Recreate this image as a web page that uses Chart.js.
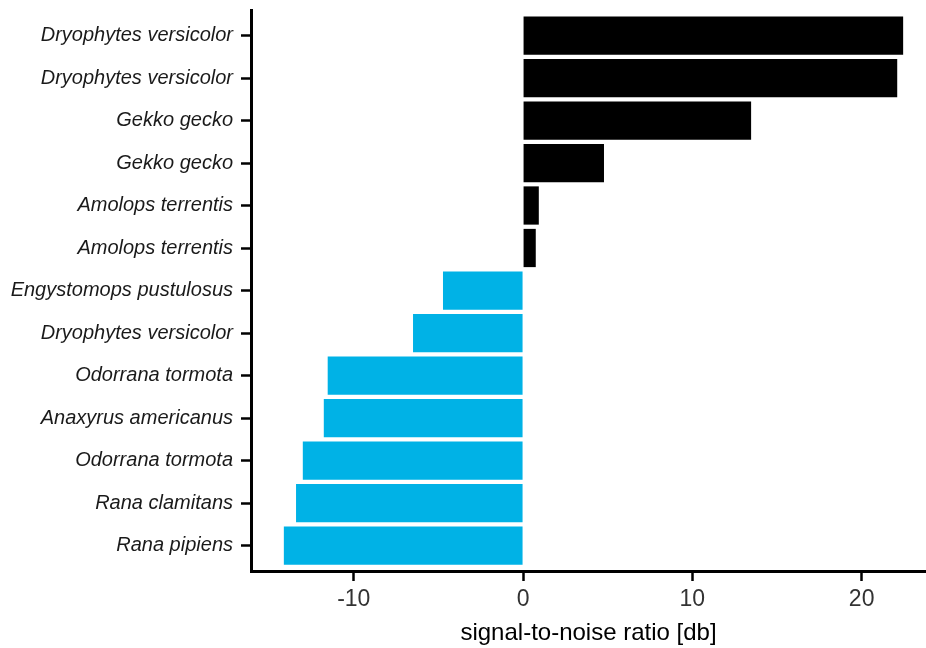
<!DOCTYPE html>
<html lang="en">
<head>
<meta charset="utf-8">
<title>Signal-to-noise ratio by species</title>
<script src="https://cdn.jsdelivr.net/npm/chart.js@4.4.0/dist/chart.umd.min.js"></script>
<style>
  body { margin: 0; background: #fff; }
</style>
</head>
<body>
<canvas id="chart" width="926" height="648"></canvas>
<script>
// species from top to bottom, with their signal-to-noise ratio [db]
const species = [
  'Dryophytes versicolor',
  'Dryophytes versicolor',
  'Gekko gecko',
  'Gekko gecko',
  'Amolops terrentis',
  'Amolops terrentis',
  'Engystomops pustulosus',
  'Dryophytes versicolor',
  'Odorrana tormota',
  'Anaxyrus americanus',
  'Odorrana tormota',
  'Rana clamitans',
  'Rana pipiens'
];
const snr = [22.45, 22.1, 13.47, 4.78, 0.93, 0.75, -4.73, -6.5, -11.54, -11.77, -13.01, -13.41, -14.13];
const xTicks = [-10, 0, 10, 20];

const positiveColor = '#000000';
const negativeColor = '#00B2E6';

Chart.defaults.font.family = '"Liberation Sans", Arial, Helvetica, sans-serif';

const points = snr.map((v, i) => ({ x: v, y: i }));

new Chart(document.getElementById('chart'), {
  type: 'bar',
  data: {
    datasets: [{
      data: points,
      backgroundColor: ctx => (ctx.raw && ctx.raw.x >= 0 ? positiveColor : negativeColor),
      borderWidth: 0,
      barPercentage: 0.9,
      categoryPercentage: 1.0
    }]
  },
  options: {
    indexAxis: 'y',
    responsive: false,
    animation: false,
    layout: { padding: { top: 10, right: 0, bottom: 0, left: 0 } },
    plugins: {
      legend: { display: false },
      tooltip: { enabled: false }
    },
    scales: {
      x: {
        type: 'linear',
        min: -16.07,
        max: 23.8,
        afterBuildTicks: s => { s.ticks = xTicks.map(v => ({ value: v })); },
        afterFit: s => { s.height = 77; s.paddingLeft = 0; s.paddingRight = 0; },
        border: { display: true, color: '#000', width: 3 },
        grid: { drawOnChartArea: false, drawTicks: true, tickLength: 10, tickColor: '#000', tickWidth: 2.5 },
        ticks: {
          color: '#333',
          padding: 5,
          font: { size: 23 },
          maxRotation: 0,
          autoSkip: false
        },
        title: {
          display: true,
          text: 'signal-to-noise ratio [db]',
          color: '#000',
          font: { size: 24 },
          padding: { top: 0, bottom: 0 }
        }
      },
      y: {
        type: 'linear',
        reverse: true,
        offset: false,
        min: -0.6,
        max: 12.6,
        afterBuildTicks: s => { s.ticks = species.map((_, i) => ({ value: i })); },
        afterFit: s => { s.width = 251; s.paddingTop = 0; s.paddingBottom = 0; },
        border: { display: true, color: '#000', width: 3 },
        grid: { offset: false, drawOnChartArea: false, drawTicks: true, tickLength: 10, tickColor: '#000', tickWidth: 2.5 },
        ticks: {
          color: '#1a1a1a',
          padding: 8,
          autoSkip: false,
          font: { size: 20, style: 'italic' },
          callback: v => species[v]
        }
      }
    }
  }
});
</script>
</body>
</html>
